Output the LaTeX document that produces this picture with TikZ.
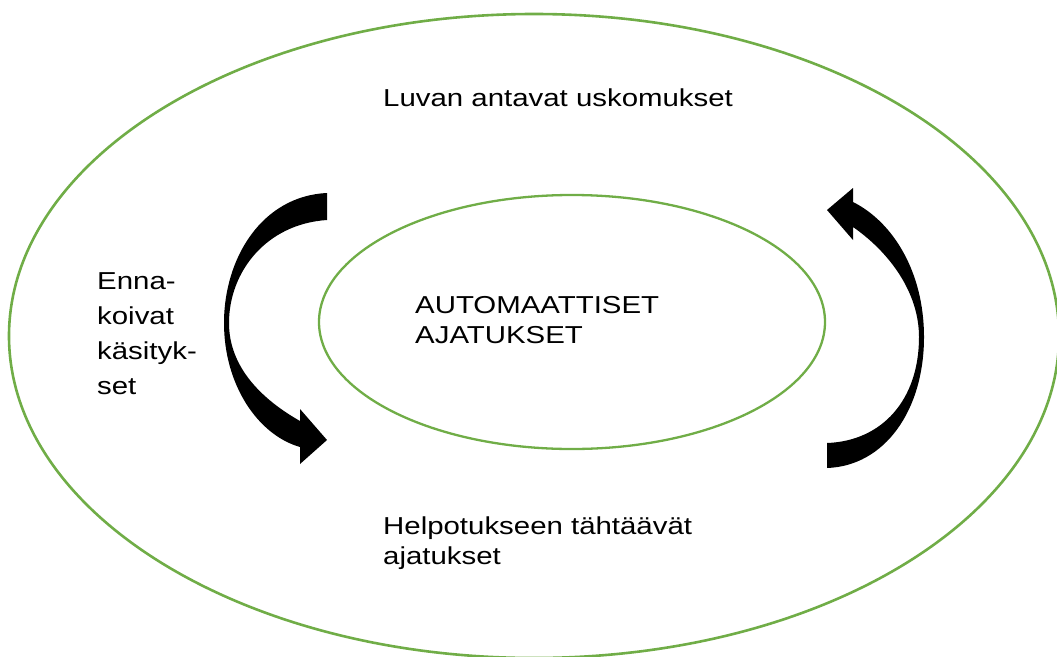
\documentclass[tikz,border=0pt]{standalone}
\usepackage{fontspec}
\newfontfamily\lblfont{Liberation Sans}[FakeStretch=1.2]
\definecolor{leafgreen}{HTML}{70AD47}
\tikzset{
  ring/.style={draw=leafgreen, line width=2.6pt},
  arcarrow/.style={fill=black, draw=none},
  lbl/.style={inner sep=0pt, align=left, anchor=base west,
    font=\lblfont\fontsize{24.5}{30}\selectfont},
}
\begin{document}
\begin{tikzpicture}[x=1pt, y=-1pt]
\useasboundingbox (0,0) rectangle (1057,656);

% outer and inner rings
\draw[ring] (534,336) ellipse [x radius=525, y radius=322];
\draw[ring, line width=2.3pt] (572,322) ellipse [x radius=253, y radius=127];

% left curved arrow, running downwards
\fill[arcarrow] (327,193)
  .. controls (262,196) and (224,258) .. (224,323)
  .. controls (224,385) and (258,435) .. (300,447)
  -- (300,464) -- (327,440) -- (300,409) -- (300,421)
  .. controls (263,400) and (229,368) .. (229,323)
  .. controls (229,272) and (266,224) .. (327,220) -- cycle;

% right curved arrow, running upwards
\fill[arcarrow] (827,468)
  .. controls (885,466) and (924,410) .. (924,337)
  .. controls (924,272) and (893,222) .. (853,202)
  -- (853,188) -- (827,210) -- (853,240) -- (853,227)
  .. controls (889,252) and (919,292) .. (919,337)
  .. controls (919,400) and (882,441) .. (827,443) -- cycle;

% labels (multi-line labels are placed by their last baseline)
\node[lbl] (perm) at (383,106) {Luvan antavat uskomukset};
\node[lbl] (auto) at (415,343) {AUTOMAATTISET\\AJATUKSET};
\node[lbl, font=\lblfont\fontsize{24.5}{35}\selectfont] (ant) at (97,394)
  {Enna-\\koivat\\käsityk-\\set};
\node[lbl] (relief) at (383,564) {Helpotukseen tähtäävät\\ajatukset};
\end{tikzpicture}
\end{document}
